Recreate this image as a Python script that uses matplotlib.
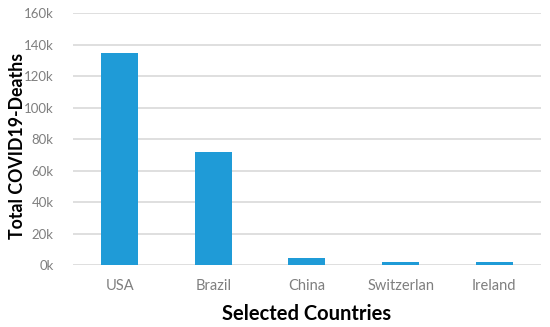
import matplotlib
matplotlib.use("Agg")
import matplotlib.pyplot as plt
from matplotlib.ticker import FuncFormatter

countries = ["USA", "Brazil", "China", "Switzerlan", "Ireland"]
deaths = [134800, 71500, 4634, 1966, 1746]
y_ticks = [0, 20000, 40000, 60000, 80000, 100000, 120000, 140000, 160000]

plt.rcParams["font.family"] = ["Lato", "DejaVu Sans"]

fig = plt.figure(figsize=(5.5, 3.27), dpi=100)
ax = fig.add_axes([0.1327, 0.1896, 0.8509, 0.7706])

x = range(len(countries))
ax.bar(x, deaths, width=0.395, color="#1f9bd7", zorder=3)

ax.set_xlim(-0.5, len(countries) - 0.5)
ax.set_ylim(0, 160000)
ax.set_yticks(y_ticks)
ax.yaxis.set_major_formatter(FuncFormatter(lambda v, p: f"{int(v / 1000)}k"))
ax.set_xticks(list(x))
ax.set_xticklabels(countries)

ax.grid(axis="y", color="#d9d9d9", linewidth=1.2, zorder=0)
for s in ax.spines.values():
    s.set_visible(False)
ax.tick_params(length=0, labelsize=10.5, labelcolor="#7f7f7f")
ax.tick_params(axis="y", labelsize=9.5, pad=14)
ax.tick_params(axis="x", pad=10)

ax.set_xlabel("Selected Countries", fontsize=14.5, fontweight="bold", labelpad=8)
ax.set_ylabel("Total COVID19-Deaths", fontsize=12.8, fontweight="bold")
ax.yaxis.set_label_coords(-0.1, 0.472)

fig.savefig("out.png", dpi=100)
